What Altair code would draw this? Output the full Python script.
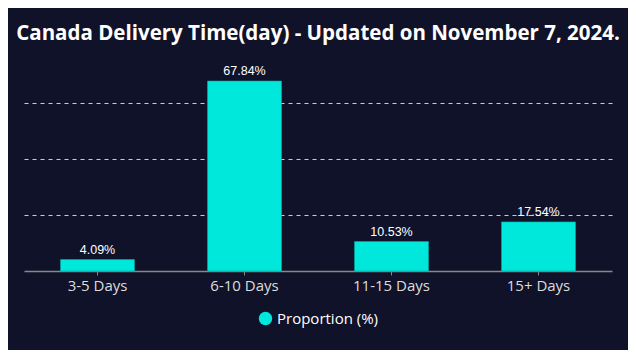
import altair as alt
import pandas as pd

categories = ["3-5 Days", "6-10 Days", "11-15 Days", "15+ Days"]
values = [4.09, 67.84, 10.53, 17.54]
labels = ["4.09%", "67.84%", "10.53%", "17.54%"]
series = ["Proportion (%)"] * 4

df = pd.DataFrame({"cat": categories, "val": values, "lab": labels, "series": series})

BG = "#10122a"
BAR = "#00e8dc"

base = alt.Chart(df)

bars = base.mark_bar(size=74, stroke="#00a8a0", strokeWidth=0.6).encode(
    x=alt.X("cat:N", sort=categories, title=None,
            scale=alt.Scale(paddingInner=0, paddingOuter=0),
            axis=alt.Axis(labelAngle=0, labelColor="#dddddd", labelFontSize=15,
                          labelFont="Open Sans", labelPadding=3,
                          domainColor="#888888", domainWidth=1.5,
                          tickColor="#888888", tickSize=4, grid=False)),
    y=alt.Y("val:Q", title=None,
            scale=alt.Scale(domain=[0, 80], nice=False),
            axis=alt.Axis(values=[20, 40, 60], labels=False, ticks=False, domain=False,
                          grid=True, gridColor="#cccccc", gridDash=[4, 4], gridWidth=1)),
    color=alt.Color("series:N", scale=alt.Scale(range=[BAR]),
                    legend=alt.Legend(title=None, orient="none", legendX=234, legendY=264,
                                      symbolType="circle", symbolSize=180,
                                      symbolStrokeWidth=0,
                                      labelColor="#ffffff", labelFontSize=15,
                                      labelFont="Open Sans")),
)

text = base.mark_text(baseline="bottom", dy=-3, color="#ffffff", fontSize=12.5,
                      font="Liberation Sans").encode(
    x=alt.X("cat:N", sort=categories),
    y=alt.Y("val:Q"),
    text="lab:N",
)

chart = (bars + text).properties(
    width=588, height=224,
    background=BG,
    padding={"left": 16, "top": 39, "right": 16, "bottom": 79},
    autosize=alt.AutoSizeParams(type="none"),
    title=alt.Title("Canada Delivery Time(day) - Updated on November 7, 2024.",
                    color="#ffffff", fontSize=20.5, fontWeight="bold",
                    font="Open Sans", anchor="middle", offset=3),
).configure_view(stroke=None)

chart.save("out.html", embed_options={"renderer": "svg", "actions": False})
